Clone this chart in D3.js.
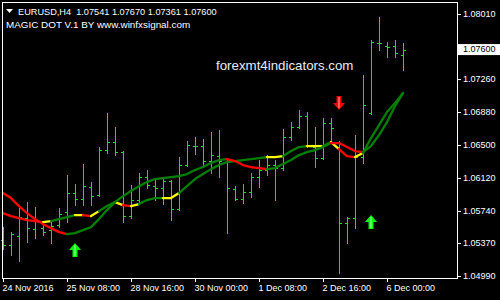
<!DOCTYPE html>
<html>
<head>
<meta charset="utf-8">
<script src="https://cdn.jsdelivr.net/npm/d3@7"></script>
<style>
body { margin: 0; background: #000; }
svg { display: block; }
text { font-family: "Liberation Sans", Arial, sans-serif; }
</style>
</head>
<body>
<svg id="chart" width="500" height="300"></svg>
<script>
// EURUSD H4 bars, 24 Nov 2016 00:00 .. 6 Dec 2016 08:00
const opens  = [1.05404,1.05346,1.05450,1.05657,1.05531,1.05542,1.05519,1.05577,1.05727,1.05946,
                1.05877,1.06015,1.05923,1.06442,1.06534,1.06418,1.05681,1.05865,1.06130,1.06026,
                1.06003,1.06084,1.05761,1.06269,1.06488,1.06488,1.06315,1.06372,1.06303,1.05992,
                1.05877,1.05957,1.06130,1.06211,1.06269,1.06234,1.06591,1.06707,1.06834,1.06476,
                1.06349,1.06753,1.06534,1.05600,1.05657,1.06361,1.06868,1.07675,1.07641,1.07641,
                1.07541];
const highs  = [1.05554,1.05496,1.05773,1.05842,1.05784,1.05611,1.05611,1.05773,1.06153,1.06050,
                1.06280,1.06073,1.06476,1.06868,1.06707,1.06430,1.06038,1.06176,1.06211,1.06096,
                1.06130,1.06096,1.06361,1.06545,1.06591,1.06568,1.06649,1.06672,1.06326,1.06026,
                1.06050,1.06176,1.06326,1.06384,1.06326,1.06684,1.06764,1.06903,1.06880,1.06707,
                1.06811,1.06811,1.06545,1.05669,1.06614,1.07306,1.07710,1.07975,1.07687,1.07710,
                1.07670];
const lows   = [1.05300,1.05231,1.05162,1.05381,1.05427,1.05461,1.05369,1.05554,1.05611,1.05807,
                1.05807,1.05807,1.05911,1.06407,1.06384,1.05611,1.05657,1.05830,1.06003,1.05865,
                1.05819,1.05634,1.05750,1.06257,1.06395,1.06269,1.06176,1.06130,1.05485,1.05865,
                1.05830,1.05900,1.06015,1.06153,1.05865,1.06211,1.06557,1.06695,1.06476,1.06246,
                1.06338,1.06534,1.05023,1.05369,1.05542,1.06292,1.06857,1.07595,1.07514,1.07514,
                1.07361];
const closes = [1.05346,1.05473,1.05669,1.05542,1.05634,1.05496,1.05565,1.05704,1.05946,1.05877,
                1.06026,1.05911,1.06442,1.06534,1.06418,1.05681,1.05865,1.06130,1.06038,1.06003,
                1.06084,1.05761,1.06269,1.06499,1.06488,1.06315,1.06384,1.06315,1.06003,1.05877,
                1.05957,1.06130,1.06211,1.06269,1.06234,1.06591,1.06707,1.06834,1.06488,1.06349,
                1.06753,1.06695,1.05600,1.05657,1.06361,1.06960,1.07687,1.07675,1.07629,1.07560,
                1.07600];

// MAGIC DOT lines, one value per bar; colour per segment (r = red, y = yellow, g = green)
const lineA  = [1.05946,1.05888,1.05796,1.05715,1.05646,1.05588,1.05542,1.05496,1.05473,1.05485,
                1.05519,1.05554,1.05646,1.05750,1.05842,1.05911,1.05969,1.06026,1.06073,1.06107,
                1.06119,1.06130,1.06142,1.06165,1.06211,1.06246,1.06292,1.06326,1.06338,1.06315,
                1.06269,1.06246,1.06234,1.06222,1.06234,1.06280,1.06326,1.06384,1.06418,1.06442,
                1.06476,1.06522,1.06522,1.06476,1.06430,1.06418,1.06488,1.06614,1.06764,1.06949,
                1.07099];
const lineB  = [1.05715,1.05681,1.05657,1.05634,1.05623,1.05611,1.05623,1.05646,1.05669,1.05692,
                1.05692,1.05681,1.05738,1.05796,1.05842,1.05807,1.05796,1.05819,1.05865,1.05888,
                1.05888,1.05888,1.05946,1.06026,1.06107,1.06165,1.06222,1.06269,1.06303,1.06315,
                1.06326,1.06338,1.06349,1.06361,1.06361,1.06372,1.06430,1.06476,1.06488,1.06488,
                1.06488,1.06534,1.06453,1.06372,1.06361,1.06407,1.06580,1.06730,1.06880,1.06983,
                1.07099];
const lineAColors = "rrrrrrrr" + "gggggggggggggggggggg" + "rrrrr" + "gggggggg" + "rrrr" + "ggggg";
const lineBColors = "rrrrr" + "y" + "ggg" + "y" + "r" + "y" + "gg" + "y" + "r" + "y" + "ggg" + "yy" +
                    "ggggggggggg" + "yy" + "ggg" + "yy" + "g" + "y" + "rr" + "y" + "ggggg";

const arrows = [
  {bar: 9,  price: 1.05369, dir: 'up'},
  {bar: 46, price: 1.05692, dir: 'up'},
  {bar: 42, price: 1.06903, dir: 'down'}
];

const priceTicks = [1.08010, 1.07640, 1.07260, 1.06880, 1.06500, 1.06120, 1.05740, 1.05370, 1.04990];
const dateTickBars = [0, 8, 16, 24, 32, 40, 48];
const dateLabels = ['24 Nov 2016', '25 Nov 08:00', '28 Nov 16:00', '30 Nov 00:00', '1 Dec 08:00', '2 Dec 16:00', '6 Dec 00:00'];
const lastPrice = 1.07600;

const segColor = {g: '#008000', r: '#ff0000', y: '#ffff00'};
const barColor = '#22dd22';
const fmt = d3.format('.5f');

const svg = d3.select('#chart');
svg.append('rect').attr('width', 500).attr('height', 300).attr('fill', '#000');

const x = d3.scaleLinear().domain([0, closes.length - 1]).range([3, 403]);
const y = d3.scaleLinear().domain([1.04990, 1.08010]).range([276, 14]);

const ohlc = closes.map((c, i) => ({i: i, o: opens[i], h: highs[i], l: lows[i], c: c}));

// bars
const barG = svg.append('g')
    .attr('stroke', barColor)
    .attr('stroke-width', 1)
    .attr('shape-rendering', 'crispEdges');

const bar = barG.selectAll('g.bar')
    .data(ohlc)
    .enter().append('g').attr('class', 'bar');

bar.append('line')
    .attr('x1', d => Math.round(x(d.i)) + 0.5)
    .attr('x2', d => Math.round(x(d.i)) + 0.5)
    .attr('y1', d => Math.round(y(d.h)))
    .attr('y2', d => Math.round(y(d.l)) + 1);
bar.append('line')
    .attr('x1', d => Math.round(x(d.i)) - 2)
    .attr('x2', d => Math.round(x(d.i)))
    .attr('y1', d => Math.round(y(d.o)) + 0.5)
    .attr('y2', d => Math.round(y(d.o)) + 0.5);
bar.append('line')
    .attr('x1', d => Math.round(x(d.i)) + 1)
    .attr('x2', d => Math.round(x(d.i)) + 3)
    .attr('y1', d => Math.round(y(d.c)) + 0.5)
    .attr('y2', d => Math.round(y(d.c)) + 0.5);

// coloured indicator lines: consecutive segments of one colour become one path
const runs = (vals, cols) => {
    const out = [];
    for (let i = 0; i < vals.length - 1; i++) {
        const c = cols[i];
        if (out.length && out[out.length - 1].c === c) {
            out[out.length - 1].pts.push(i + 1);
        } else {
            out.push({c: c, pts: [i, i + 1], vals: vals});
        }
    }
    return out;
};

const lineGen = vals => d3.line().x(i => x(i)).y(i => y(vals[i]));

const lineG = svg.append('g').attr('fill', 'none').attr('stroke-width', 2.3)
    .attr('stroke-linejoin', 'round').attr('stroke-linecap', 'round');

[[lineB, lineBColors], [lineA, lineAColors]].forEach(([vals, cols]) => {
    lineG.selectAll(null)
        .data(runs(vals, cols))
        .enter().append('path')
        .attr('d', r => lineGen(r.vals)(r.pts))
        .attr('stroke', r => segColor[r.c]);
});

// arrows
const arrowG = svg.append('g');
arrows.forEach(a => {
    const ax = x(a.bar), ay = y(a.price);
    const s = a.dir === 'up' ? 1 : -1;
    const fill = a.dir === 'up' ? '#00ff00' : '#ff0000';
    const light = a.dir === 'up' ? '#b0ffb0' : '#ffb0b0';
    const p = d3.path();
    p.moveTo(ax, ay);
    p.lineTo(ax + 6, ay + s * 7);
    p.lineTo(ax + 2.5, ay + s * 7);
    p.lineTo(ax + 2.5, ay + s * 14);
    p.lineTo(ax - 2.5, ay + s * 14);
    p.lineTo(ax - 2.5, ay + s * 7);
    p.lineTo(ax - 6, ay + s * 7);
    p.closePath();
    arrowG.append('path').attr('d', p.toString()).attr('fill', fill);
    arrowG.append('line')
        .attr('x1', ax).attr('x2', ax)
        .attr('y1', ay + s * 2).attr('y2', ay + s * 13)
        .attr('stroke', light).attr('stroke-width', 1);
});

// frame
svg.append('rect')
    .attr('x', 2.5).attr('y', 2.5)
    .attr('width', 455).attr('height', 276)
    .attr('fill', 'none').attr('stroke', '#fff').attr('stroke-width', 1);

// price axis (the label nearest the current price sits under the price box, so it is left blank)
const yAxisG = svg.append('g')
    .attr('transform', 'translate(457,0)')
    .call(d3.axisRight(y).tickValues(priceTicks)
        .tickFormat(d => Math.abs(d - lastPrice) < 0.0006 ? '' : fmt(d))
        .tickSize(4).tickPadding(2));
yAxisG.select('.domain').remove();
yAxisG.attr('font-size', 9).attr('font-family', '"Liberation Sans", Arial, sans-serif');
yAxisG.selectAll('line').attr('stroke', '#fff');
yAxisG.selectAll('text').attr('fill', '#fff');

// current price label
svg.append('rect')
    .attr('x', 458).attr('y', y(lastPrice) - 5.5)
    .attr('width', 42).attr('height', 11)
    .attr('fill', '#fff');
svg.append('text')
    .attr('x', 463).attr('y', y(lastPrice))
    .attr('dy', '0.32em')
    .attr('font-size', 9)
    .attr('fill', '#000')
    .text(fmt(lastPrice));

// time axis
const xAxisG = svg.append('g')
    .attr('transform', 'translate(0,278)')
    .call(d3.axisBottom(x).tickValues(dateTickBars).tickFormat((d, i) => dateLabels[i]).tickSize(4).tickPadding(3));
xAxisG.select('.domain').remove();
xAxisG.attr('font-size', 9).attr('font-family', '"Liberation Sans", Arial, sans-serif');
xAxisG.selectAll('line').attr('stroke', '#fff');
xAxisG.selectAll('text').attr('fill', '#fff').attr('text-anchor', 'start').attr('dx', -1);

// header
svg.append('path').attr('d', 'M6,9L13,9L9.5,13Z').attr('fill', '#fff');
svg.append('text')
    .attr('x', 18).attr('y', 15)
    .attr('font-size', 9.2)
    .attr('fill', '#fff')
    .style('white-space', 'pre')
    .text('EURUSD,H4  1.07541 1.07670 1.07361 1.07600');
svg.append('text')
    .attr('x', 6).attr('y', 28)
    .attr('font-size', 9.9)
    .attr('fill', '#fff')
    .text('MAGIC DOT V.1 BY www.winfxsignal.com');

// watermark
svg.append('text')
    .attr('x', 216).attr('y', 70)
    .attr('font-size', 13.3)
    .attr('fill', '#e8ecf4')
    .text('forexmt4indicators.com');
</script>
</body>
</html>
